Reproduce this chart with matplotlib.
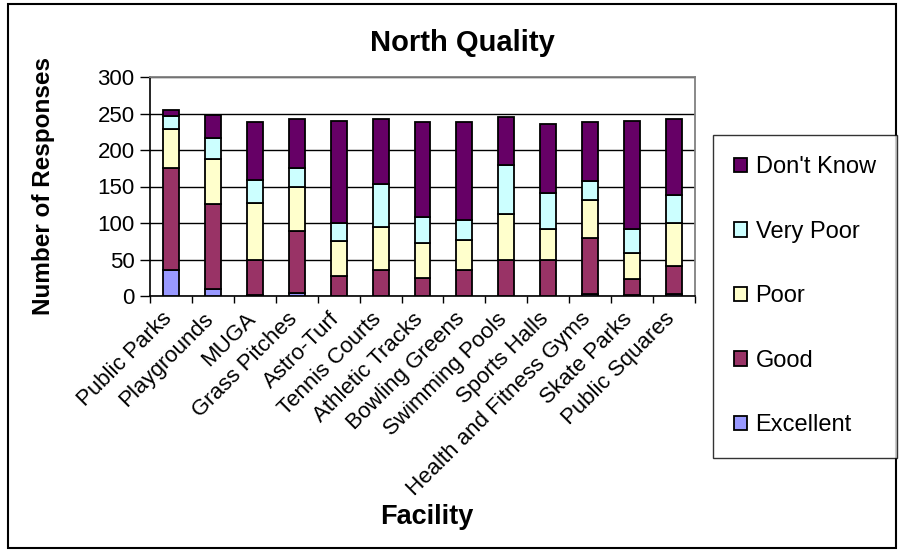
import numpy as np
import matplotlib.pyplot as plt
import matplotlib.transforms as mtransforms
from matplotlib.patches import Rectangle

plt.rcParams["font.family"] = ["Liberation Sans", "DejaVu Sans"]

facilities = ["Public Parks", "Playgrounds", "MUGA", "Grass Pitches", "Astro-Turf",
              "Tennis Courts", "Athletic Tracks", "Bowling Greens", "Swimming Pools",
              "Sports Halls", "Health and Fitness Gyms", "Skate Parks", "Public Squares"]

# stacked from the bottom up
excellent = [35, 9, 1, 4, 0, 0, 0, 0, 0, 0, 3, 1, 3]
good      = [140, 117, 49, 85, 28, 36, 25, 36, 49, 49, 76, 22, 38]
poor      = [54, 62, 78, 60, 48, 59, 47, 41, 64, 43, 52, 36, 59]
very_poor = [18, 28, 31, 26, 24, 59, 36, 27, 67, 49, 26, 33, 38]
dont_know = [8, 32, 79, 68, 140, 89, 130, 134, 65, 94, 81, 148, 105]

series = [("Excellent", excellent, "#9999FF"),
          ("Good", good, "#993366"),
          ("Poor", poor, "#FFFFCC"),
          ("Very Poor", very_poor, "#CCFFFF"),
          ("Don't Know", dont_know, "#660066")]

fig = plt.figure(figsize=(9, 5.52), dpi=100)
ax = fig.add_axes([150 / 900, 1 - 296 / 552, 545 / 900, 219 / 552])

x = np.arange(len(facilities))
bottom = np.zeros(len(facilities))
handles = []
for name, vals, color in series:
    b = ax.bar(x, vals, 0.38, bottom=bottom, color=color, edgecolor="black",
               linewidth=1.3, label=name, zorder=3)
    handles.append(b)
    bottom += np.array(vals)

ax.set_xlim(-0.5, len(facilities) - 0.5)
ax.set_ylim(0, 300)
ax.set_yticks(range(0, 301, 50))
ax.yaxis.grid(True, color="black", lw=1, zorder=0)
ax.set_axisbelow(True)

ax.set_xticks(x)
ax.set_xticklabels(facilities, rotation=45, ha="right", rotation_mode="anchor")
ax.set_xticks(np.arange(-0.5, len(facilities), 1), minor=True)
ax.tick_params(axis="x", which="major", length=0, pad=9, labelsize=16)
ax.tick_params(axis="x", which="minor", length=5, width=1, direction="out")
ax.tick_params(axis="y", length=7, width=1, direction="out", labelsize=16, pad=4)
# nudge the slanted labels a little left, as in the original
shift = mtransforms.ScaledTranslation(-10 / 100, 0, fig.dpi_scale_trans)
for lbl in ax.get_xticklabels():
    lbl.set_transform(lbl.get_transform() + shift)

for side in ("top", "right"):
    ax.spines[side].set_color("#808080")
    ax.spines[side].set_linewidth(1.3)
for side in ("left", "bottom"):
    ax.spines[side].set_color("black")
    ax.spines[side].set_linewidth(1.2)

fig.text(462 / 900, 1 - 43 / 552, "North Quality", fontsize=21, fontweight="bold",
         ha="center", va="center")
fig.text(427 / 900, 1 - 517 / 552, "Facility", fontsize=19.5, fontweight="bold",
         ha="center", va="center")
fig.text(44 / 900, 1 - 186 / 552, "Number of Responses", fontsize=17.5,
         fontweight="bold", ha="center", va="center", rotation=90)

leg = fig.legend(handles[::-1], [s[0] for s in series][::-1],
                 loc="upper left", bbox_to_anchor=(713 / 900, 1 - 135 / 552),
                 frameon=True, fancybox=False, edgecolor="black", fontsize=17,
                 handlelength=0.55, handleheight=0.55, handletextpad=0.35,
                 labelspacing=1.8, borderpad=0.9, borderaxespad=0)
leg.get_frame().set_linewidth(1.0)

fig.patches.append(Rectangle((8 / 900, 4 / 552), 888 / 900, 544 / 552,
                             transform=fig.transFigure, fill=False,
                             edgecolor="black", linewidth=1.5))

fig.savefig("out.png", dpi=100)
